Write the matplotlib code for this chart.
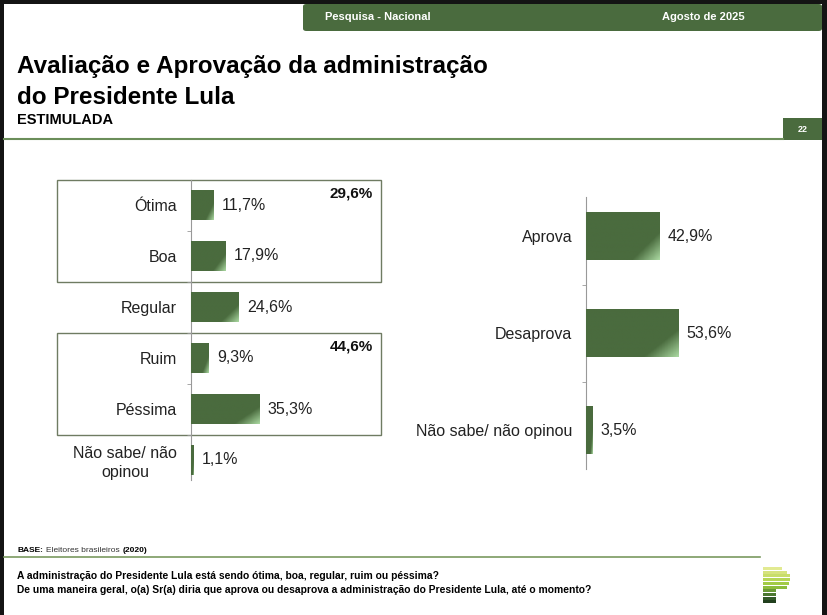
import numpy as np
import matplotlib
matplotlib.use("Agg")
import matplotlib.pyplot as plt
from matplotlib.patches import Rectangle, FancyBboxPatch
from matplotlib.colors import LinearSegmentedColormap

# dados
aval_cats = ["Ótima", "Boa", "Regular", "Ruim", "Péssima", "Não sabe/ não\nopinou"]
aval_vals = [11.7, 17.9, 24.6, 9.3, 35.3, 1.1]
aval_labels = ["11,7%", "17,9%", "24,6%", "9,3%", "35,3%", "1,1%"]
grupo_pos = "29,6%"
grupo_neg = "44,6%"

aprov_cats = ["Aprova", "Desaprova", "Não sabe/ não opinou"]
aprov_vals = [42.9, 53.6, 3.5]
aprov_labels = ["42,9%", "53,6%", "3,5%"]

W, H = 828, 615
GREEN = "#4a6b3e"
plt.rcParams["font.family"] = ["Liberation Sans", "DejaVu Sans"]

def fx(x):
    return x / W

def fy(y):
    return 1 - y / H

fig = plt.figure(figsize=(W / 100, H / 100), dpi=100, facecolor="#141414")

# fundo branco do slide
fig.patches.append(Rectangle((fx(4), 0), fx(818), 1 - 4 / H, transform=fig.transFigure,
                             facecolor="white", edgecolor="none", zorder=-2))

# cabeçalho
fig.patches.append(FancyBboxPatch((fx(303), fy(31)), fx(519), 27 / H, transform=fig.transFigure,
                                  boxstyle="round,pad=0,rounding_size=0.004",
                                  facecolor=GREEN, edgecolor="none", zorder=-1))
fig.text(fx(325), fy(17.5), "Pesquisa - Nacional", color="white", fontsize=8,
         fontweight="bold", va="center", ha="left")
fig.text(fx(745), fy(17.5), "Agosto de 2025", color="white", fontsize=8,
         fontweight="bold", va="center", ha="right")

# título
fig.text(fx(17), fy(66), "Avaliação e Aprovação da administração", fontsize=17.5,
         fontweight="bold", va="center", ha="left")
fig.text(fx(17), fy(97), "do Presidente Lula", fontsize=17.5,
         fontweight="bold", va="center", ha="left")
fig.text(fx(17), fy(120), "ESTIMULADA", fontsize=10.5,
         fontweight="bold", va="center", ha="left")

fig.add_artist(plt.Line2D([fx(4), fx(783)], [fy(139), fy(139)], color="#6b8e5a", lw=1.5))
fig.patches.append(Rectangle((fx(783), fy(140)), fx(39), 22 / H, transform=fig.transFigure,
                             facecolor=GREEN, edgecolor="none", zorder=-1))
fig.text(fx(802.5), fy(129), "22", color="white", fontsize=6.5, fontweight="bold",
         va="center", ha="center")

cmap = LinearSegmentedColormap.from_list("barra", [GREEN, GREEN, "#a9d7a0"])
grad_u, grad_v = np.meshgrid(np.linspace(0, 1, 60), np.linspace(0, 1, 60))
grad = np.clip((0.6 * grad_u + 0.4 * grad_v - 0.55) / 0.45, 0, 1)


def barras(ax, cats, vals, labels, height, xmax):
    y = np.arange(len(cats))
    bars = ax.barh(y, vals, height=height, color=GREEN, zorder=2)
    for b in bars:
        x0, y0, w, h = b.get_x(), b.get_y(), b.get_width(), b.get_height()
        im = ax.imshow(grad, cmap=cmap, vmin=0, vmax=1, aspect="auto",
                       extent=(x0, x0 + w, y0 + h, y0), origin="upper", zorder=3)
        im.set_clip_path(b)
    for yi, v, lab in zip(y, vals, labels):
        ax.annotate(lab, (v, yi), xytext=(6, 0), textcoords="offset points",
                    va="center", ha="left", fontsize=11.5, color="#222222")
    ax.set_xlim(0, xmax)
    ax.set_ylim(len(cats) - 0.5, -0.5)
    ax.set_yticks(y)
    ax.set_yticklabels(cats, fontsize=11.5, color="#222222", linespacing=1.3,
                       multialignment="center")
    ax.tick_params(axis="y", which="major", length=0, pad=10)
    ax.set_yticks(np.arange(len(cats) - 1) + 0.5, minor=True)
    ax.tick_params(axis="y", which="minor", length=3, color="#999999")
    ax.set_xticks([])
    for s in ["top", "right", "bottom"]:
        ax.spines[s].set_visible(False)
    ax.spines["left"].set_color("#999999")
    ax.set_facecolor("none")
    return y


# gráfico avaliação
ax1 = fig.add_axes([fx(191), fy(485.5), fx(190), 306 / H])
barras(ax1, aval_cats, aval_vals, aval_labels, 0.59, 190 / 1.93)
ax1.spines["left"].set_bounds(5.4, -0.5)
box_l = -(191 - 57) / 1.93
for (y0, y1), txt in [((-0.5, 1.5), grupo_pos), ((2.5, 4.5), grupo_neg)]:
    ax1.add_patch(Rectangle((box_l, y0), 190 / 1.93 - box_l, y1 - y0, fill=False,
                            edgecolor="#6f7b62", lw=1.0, clip_on=False, zorder=1))
    ax1.annotate(txt, (190 / 1.93, y0), xytext=(-6, -5), textcoords="offset points",
                 ha="right", va="top", fontsize=11, fontweight="bold", color="#111111")

# gráfico aprovação
ax2 = fig.add_axes([fx(586), fy(478.5), fx(150), 291 / H])
barras(ax2, aprov_cats, aprov_vals, aprov_labels, 0.5, 150 / 1.72)
ax2.spines["left"].set_bounds(2.4, -0.4)

# rodapé
t_base = fig.text(fx(17), fy(550), "BASE:", fontsize=6, fontweight="bold",
                  va="center", ha="left")
t_ele = fig.text(0, 0, "Eleitores brasileiros", fontsize=6, va="center", ha="left",
                 color="#333333")
t_ano = fig.text(0, 0, "(2020)", fontsize=6, fontweight="bold", va="center", ha="left")
r = fig.canvas.get_renderer()
x_next = t_base.get_window_extent(r).x1 + 3
t_ele.set_position((x_next / W, fy(550)))
x_next = t_ele.get_window_extent(r).x1 + 3
t_ano.set_position((x_next / W, fy(550)))

fig.add_artist(plt.Line2D([fx(4), fx(760)], [fy(557), fy(557)], color="#7a9a60", lw=1.2))
fig.text(fx(17), fy(576),
         "A administração do Presidente Lula está sendo ótima, boa, regular, ruim ou péssima?",
         fontsize=7.4, fontweight="bold", va="center", ha="left")
fig.text(fx(17), fy(590),
         "De uma maneira geral, o(a) Sr(a) diria que aprova ou desaprova a administração do Presidente Lula, até o momento?",
         fontsize=7.4, fontweight="bold", va="center", ha="left")

# logotipo
logo_cores = ["#e2ea92", "#d6e37e", "#c8dd6a", "#b6d656", "#a2cb46", "#8cbc3c",
              "#6a9a36", "#4b782f", "#335a28", "#213f1e"]
logo_larg = [19, 24, 27, 27, 26, 24, 13, 13, 13, 13]
for i, (c, lw_) in enumerate(zip(logo_cores, logo_larg)):
    fig.patches.append(Rectangle((fx(763), fy(567 + 3.7 * i + 3)), fx(lw_), 3.0 / H,
                                 transform=fig.transFigure, facecolor=c,
                                 edgecolor="none", zorder=-1))

fig.savefig("out.png", dpi=100, facecolor=fig.get_facecolor())
